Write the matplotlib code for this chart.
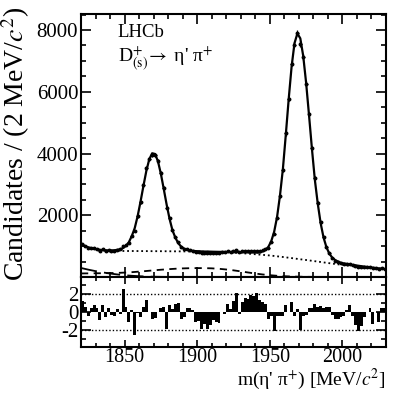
import numpy as np
import matplotlib

matplotlib.use("Agg")
import matplotlib.pyplot as plt
from matplotlib.ticker import MultipleLocator

plt.rcParams["font.family"] = ["Liberation Serif", "DejaVu Serif"]
plt.rcParams["mathtext.fontset"] = "stix"

# 2 MeV bins between 1820 and 2030 MeV
mass = np.arange(1821, 2030, 2)

counts = [
    1072, 1014, 950, 950, 936, 907, 853, 895, 849, 872,
    852, 851, 888, 893, 1016, 1027, 1094, 1338, 1481, 1967,
    2415, 2983, 3520, 3816, 3961, 3941, 3750, 3372, 2879, 2245,
    1914, 1522, 1305, 1125, 959, 897, 893, 873, 852, 806,
    804, 773, 787, 769, 778, 792, 785, 780, 813, 806,
    836, 817, 843, 865, 798, 833, 845, 840, 850, 844,
    853, 831, 860, 904, 953, 1143, 1385, 1922, 2616, 3465,
    4649, 5765, 6904, 7530, 7916, 7553, 7129, 6266, 5275, 4183,
    3202, 2410, 1772, 1297, 980, 773, 618, 530, 482, 443,
    432, 428, 424, 383, 349, 324, 320, 325, 324, 321,
    278, 290, 261, 276, 268,
]

fit_total = [
    1030, 995, 962, 935, 912, 895, 880, 873, 865, 860,
    861, 866, 879, 899, 938, 1010, 1131, 1329, 1584, 1971,
    2442, 2953, 3438, 3813, 4008, 3985, 3747, 3343, 2847, 2337,
    1879, 1510, 1271, 1092, 982, 915, 881, 860, 846, 838,
    833, 828, 824, 824, 821, 818, 816, 814, 813, 812,
    810, 808, 806, 805, 804, 802, 800, 798, 796, 793,
    791, 792, 828, 877, 976, 1160, 1465, 1944, 2637, 3495,
    4598, 5761, 6813, 7573, 7889, 7729, 7163, 6290, 5242, 4157,
    3154, 2383, 1743, 1279, 963, 756, 626, 548, 500, 456,
    440, 424, 408, 393, 378, 364, 350, 336, 324, 312,
    301, 290, 279, 269, 260,
]

pulls = [
    1.3, 0.6, -0.4, 0.5, 0.8, 0.4, -0.9, 0.75, -0.55, 0.4,
    -0.3, -0.5, 0.3, -0.2, 2.55, 0.55, -1.1, 0.25, -2.6, -0.1,
    -0.55, 0.55, 1.4, 0.05, -0.75, -0.7, 0.05, 0.5, 0.6, -1.9,
    0.8, 0.3, 0.95, 1.0, -0.75, -0.6, 0.4, 0.45, 0.2, -1.1,
    -1.0, -1.9, -1.3, -1.9, -1.5, -0.9, -1.1, -1.2, 0.0, -0.2,
    0.9, 0.3, 1.3, 2.1, -0.2, 1.1, 1.6, 1.5, 1.9, 1.8,
    2.2, 1.4, 1.1, 0.9, -0.75, -0.5, -2.1, -0.5, -0.4, -0.5,
    0.75, 0.05, 1.1, -0.5, 0.3, -2.0, -0.4, -0.3, 0.45, 0.4,
    0.85, 0.55, 0.7, 0.5, 0.55, 0.6, -0.3, -0.75, -0.8, -0.6,
    -0.4, 0.2, 0.8, -0.5, -1.5, -2.1, -1.6, -0.6, 0.0, 0.5,
    -1.3, 0.0, -1.1, 0.4, 0.5,
]

# background components sampled every 5 MeV
curve_mass = np.arange(1820, 2031, 5)
bkg_total = [
    1045, 962, 903, 868, 848, 843, 842, 841, 840, 838,
    836, 835, 833, 831, 829, 826, 823, 819, 813, 806,
    798, 786, 773, 756, 737, 717, 697, 670, 642, 612,
    580, 550, 518, 486, 453, 421, 392, 366, 341, 316,
    293, 271, 250,
]
bkg_dashed = [
    115, 117, 120, 122, 126, 132, 142, 156, 174, 194,
    215, 235, 252, 267, 278, 285, 288, 287, 280, 265,
    243, 215, 182, 146, 112, 82, 58, 39, 25, 15,
    9, 5, 3, 1, 0, 0, 0, 0, 0, 0,
    0, 0, 0,
]
bkg_longdash = [
    292, 238, 190, 148, 112, 82, 58, 39, 25, 15,
    8, 4, 2, 1, 0, 0, 0, 0, 0, 0,
    0, 0, 0, 0, 0, 0, 0, 0, 0, 0,
    0, 0, 0, 0, 0, 0, 0, 0, 0, 0,
    0, 0, 0,
]

fig = plt.figure(figsize=(4.07, 3.97), dpi=100)
ax = fig.add_axes([0.199, 0.3023, 0.7494, 0.6625])
axp = fig.add_axes([0.199, 0.1259, 0.7494, 0.1763])

ax.plot(curve_mass, bkg_total, color="black", lw=1.3, ls=(0, (1, 1.6)))
ax.plot(curve_mass, bkg_dashed, color="black", lw=1.3, ls=(0, (4, 3)))
ax.plot(curve_mass, bkg_longdash, color="black", lw=1.3, ls=(0, (9, 4)))
ax.plot(mass, fit_total, color="black", lw=1.6)
ax.errorbar(mass, counts, yerr=np.sqrt(counts), xerr=1, fmt="o", ms=1.8,
            color="black", elinewidth=0.9, capsize=0)

ax.set_xlim(1820, 2030)
ax.set_ylim(0, 8520)
ax.yaxis.set_minor_locator(MultipleLocator(500))
ax.set_yticks([2000, 4000, 6000, 8000])

axp.bar(mass, pulls, width=2, color="black")
axp.axhline(2, color="black", lw=1.0, ls=(0, (1, 1.5)))
axp.axhline(-2, color="black", lw=1.0, ls=(0, (1, 1.5)))
axp.set_xlim(1820, 2030)
axp.set_ylim(-3.95, 3.95)
axp.set_yticks([-2, 0, 2])
axp.set_yticklabels(["-2", "0", "2"])
axp.yaxis.set_minor_locator(MultipleLocator(1))

for a in (ax, axp):
    a.xaxis.set_major_locator(MultipleLocator(50))
    a.xaxis.set_minor_locator(MultipleLocator(10))
    a.tick_params(which="both", direction="in", top=True, right=True,
                  labelsize=15, width=1.2)
    a.tick_params(which="major", length=7, pad=2)
    a.tick_params(which="minor", length=3.5)
    for s in a.spines.values():
        s.set_linewidth(1.5)
ax.tick_params(labelbottom=False)
axp.tick_params(axis="x", which="major", length=5, pad=1, labelsize=14.5)
axp.tick_params(axis="x", which="minor", length=3)

ax.text(0.121, 0.913, "LHCb", transform=ax.transAxes, fontsize=13.5,
        va="baseline")
ax.text(0.121, 0.819, r"D$^{+}_{\mathrm{(s)}}$$\!\rightarrow$ η' π$^{+}$",
        transform=ax.transAxes, fontsize=14, va="baseline")

fig.text(0.038, 0.985, r"Candidates / (2 MeV/$c^{2}$)", rotation=90,
         ha="center", va="top", fontsize=20)
fig.text(0.948, 0.031, r"m(η' π$^{+}$) [MeV/$c^{2}$]",
         ha="right", va="baseline", fontsize=14)

fig.savefig("out.png", dpi=100)
